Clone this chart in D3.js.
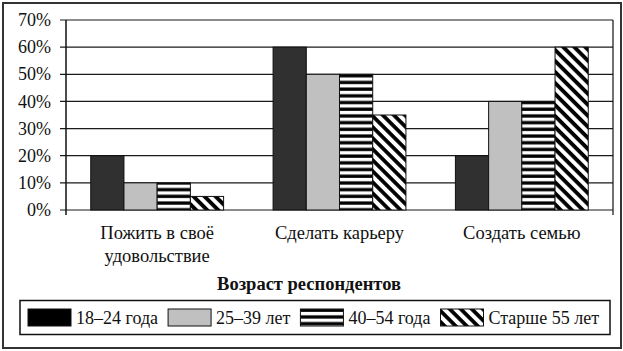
<!DOCTYPE html>
<html>
<head>
<meta charset="utf-8">
<script src="https://cdn.jsdelivr.net/npm/d3@7"></script>
<style>
  body { margin: 0; background: #fff; }
  text { font-family: "Liberation Serif", "Times New Roman", serif; fill: #111; }
</style>
</head>
<body>
<div id="chart"></div>
<script>
// data
let categories = ['Пожить в своё\nудовольствие', 'Сделать карьеру', 'Создать семью']
let seriesNames = ['18–24 года', '25–39 лет', '40–54 года', 'Старше 55 лет']
let values18 = [20, 60, 20]
let values25 = [10, 50, 40]
let values40 = [10, 50, 40]
let values55 = [5, 35, 60]
let yTicks = [0, 10, 20, 30, 40, 50, 60, 70]
let titleText = 'Возраст респондентов'

let width = 623
let height = 351
let margin = {top: 20, right: 10, left: 66, bottom: 141}

let svg = d3.select('#chart').append('svg').attr('width', width).attr('height', height)

// patterns
let defs = svg.append('defs')
let hp = defs.append('pattern').attr('id', 'horiz').attr('patternUnits', 'userSpaceOnUse')
    .attr('width', 8).attr('height', 6.7)
hp.append('rect').attr('width', 8).attr('height', 6.7).attr('fill', '#fff')
hp.append('rect').attr('y', 0.4).attr('width', 8).attr('height', 3.3).attr('fill', '#000')
let dp = defs.append('pattern').attr('id', 'diag').attr('patternUnits', 'userSpaceOnUse')
    .attr('width', 8).attr('height', 7.8).attr('patternTransform', 'rotate(45)')
dp.append('rect').attr('width', 8).attr('height', 7.8).attr('fill', '#fff')
dp.append('rect').attr('width', 8).attr('height', 3.8).attr('fill', '#000')

let fills = ['#303030', '#c0c0c0', 'url(#horiz)', 'url(#diag)']
let legendFills = ['#000', '#c0c0c0', 'url(#horiz)', 'url(#diag)']

let rows = categories.map((c, i) => ({
    category: c,
    values: [values18[i], values25[i], values40[i], values55[i]]
}))

let x0 = d3.scaleBand().domain(categories).range([margin.left, width - margin.right]).padding(0)
let x1 = d3.scaleBand().domain(seriesNames).range([0, x0.bandwidth()]).paddingInner(0).paddingOuter(0.745)
let y = d3.scaleLinear().domain([0, 70]).range([height - margin.bottom, margin.top])

// outer frame
svg.append('rect').attr('x', 3).attr('y', 3).attr('width', 618).attr('height', 345)
    .attr('fill', 'none').attr('stroke', '#333').attr('stroke-width', 2)

// gridlines
svg.append('g').selectAll('line').data(yTicks).enter().append('line')
    .attr('x1', margin.left - 6).attr('x2', width - margin.right)
    .attr('y1', d => y(d)).attr('y2', d => y(d))
    .attr('stroke', '#1a1a1a').attr('stroke-width', 1.2)

// y labels
svg.append('g').selectAll('text').data(yTicks).enter().append('text')
    .attr('x', 51).attr('y', d => y(d)).attr('dy', '0.34em')
    .attr('text-anchor', 'end').style('font-size', '18px')
    .text(d => d + '%')

// axis + right edge
svg.append('line').attr('x1', margin.left).attr('x2', margin.left)
    .attr('y1', y(70)).attr('y2', y(0) + 5).attr('stroke', '#111').attr('stroke-width', 1.5)
svg.append('line').attr('x1', width - margin.right).attr('x2', width - margin.right)
    .attr('y1', y(70)).attr('y2', y(0) + 5).attr('stroke', '#111').attr('stroke-width', 1.2)

// bars
let groups = svg.selectAll('.grp').data(rows).enter().append('g').attr('class', 'grp')
    .attr('transform', d => 'translate(' + x0(d.category) + ',0)')
groups.selectAll('rect').data(d => d.values.map((v, i) => ({key: seriesNames[i], value: v, i: i})))
    .enter().append('rect')
    .attr('x', d => x1(d.key)).attr('width', x1.bandwidth())
    .attr('y', d => y(d.value)).attr('height', d => y(0) - y(d.value))
    .attr('fill', d => fills[d.i]).attr('stroke', '#111').attr('stroke-width', 1)

// category labels
rows.forEach(r => {
    let lines = r.category.split('\n')
    let t = svg.append('text').attr('text-anchor', 'middle').style('font-size', '18.5px')
        .attr('x', x0(r.category) + x0.bandwidth() / 2).attr('y', 239)
    lines.forEach((l, i) => {
        t.append('tspan').attr('x', x0(r.category) + x0.bandwidth() / 2).attr('dy', i === 0 ? 0 : 23).text(l)
    })
})

// title
svg.append('text').attr('x', 309).attr('y', 290).attr('text-anchor', 'middle')
    .style('font-size', '18.5px').style('font-weight', 'bold').text(titleText)

// legend
svg.append('rect').attr('x', 20).attr('y', 300.5).attr('width', 590).attr('height', 34)
    .attr('fill', '#fff').attr('stroke', '#111').attr('stroke-width', 1.5)
let lx = 28
seriesNames.forEach((s, i) => {
    svg.append('rect').attr('x', lx).attr('y', 309).attr('width', 43).attr('height', 17)
        .attr('fill', legendFills[i]).attr('stroke', '#111').attr('stroke-width', 1)
    let t = svg.append('text').attr('x', lx + 48).attr('y', 324).style('font-size', '18px').text(s)
    lx = lx + 48 + t.node().getComputedTextLength() + 10
})
</script>
</body>
</html>
